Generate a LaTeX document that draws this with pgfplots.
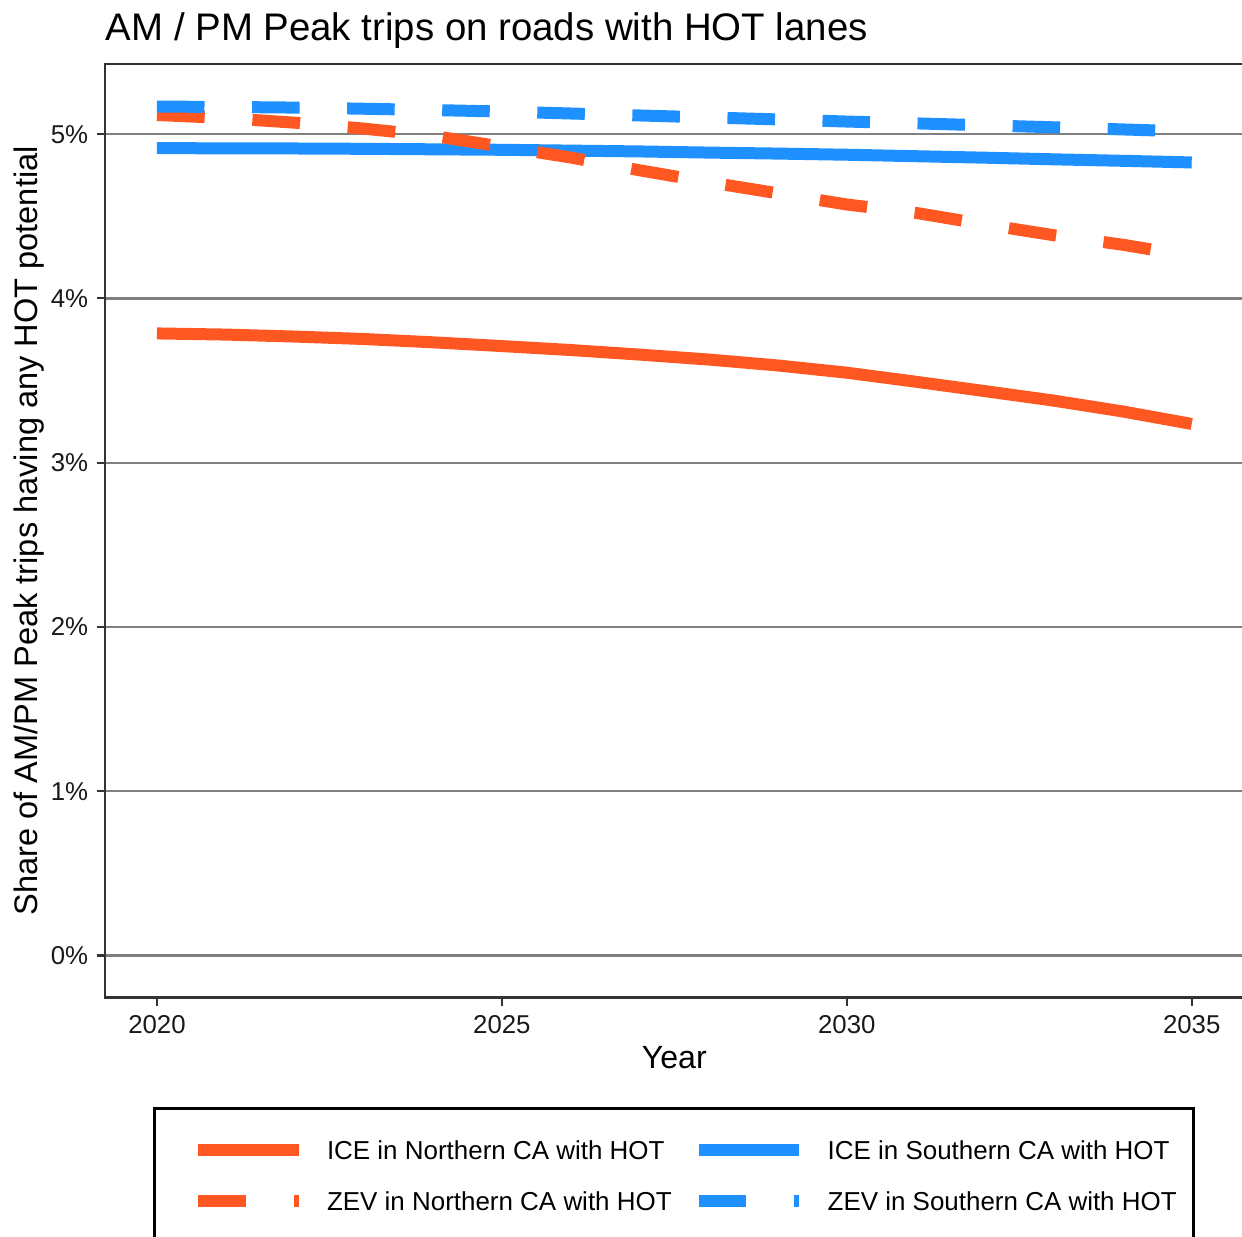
\documentclass[border=0pt]{standalone}
\usepackage{pgfplots}
\pgfplotsset{compat=1.18}
\usepackage{fontspec}
\setmainfont{Liberation Sans}
\definecolor{cor}{HTML}{FF5722}
\definecolor{cbl}{HTML}{1E90FF}
\definecolor{frame}{HTML}{333333}
\definecolor{gridc}{HTML}{808080}
\begin{document}
\begin{tikzpicture}
\begin{axis}[
  at={(0,0)}, anchor=south west,
  scale only axis, width=379.4pt, height=311.2pt,
  xmin=2019.25, xmax=2035.75, ymin=-0.256, ymax=5.428,
  axis line style={frame, line width=0.7pt},
  xtick={2020,2025,2030,2035}, xticklabels={2020,2025,2030,2035},
  ytick={0,1,2,3,4,5}, yticklabels={0\%,1\%,2\%,3\%,4\%,5\%},
  xtick pos=bottom, ytick pos=left,
  tick align=outside, major tick length=2.7pt,
  tick style={frame, line width=0.7pt},
  ymajorgrids, grid style={gridc, line width=0.8pt},
  ticklabel style={font=\fontsize{8.6}{10}\selectfont, text=black!90},
  xticklabel style={anchor=north, inner sep=0pt, yshift=-3.1pt},
  yticklabel style={anchor=east, inner sep=0pt, xshift=-2.8pt},
  title={AM / PM Peak trips on roads with HOT lanes},
  title style={at={(axis description cs:0,1)}, anchor=base west, inner sep=0pt, yshift=1.7pt, font=\fontsize{12.8}{15}\selectfont},
  xlabel={Year},
  xlabel style={at={(axis description cs:0.5,-0.0765)}, anchor=base, inner sep=0pt, font=\fontsize{10.7}{13}\selectfont},
  ylabel={Share of AM/PM Peak trips having any HOT potential},
  ylabel style={at={(axis description cs:-0.0598,0.5)}, anchor=base, inner sep=0pt, font=\fontsize{10.85}{13}\selectfont},
  legend columns=2,
  legend image code/.code={\draw[#1] (9pt,0pt) -- (42.5pt,0pt); \path[draw=none,fill=none] (0pt,-3.1pt) rectangle (52pt,3.1pt);},
  legend style={at={(axis description cs:0.042,-0.117)}, anchor=north west,
    draw=black, line width=1pt, inner xsep=5.5pt, inner ysep=10.9pt,
    font=\fontsize{8.65}{10}\selectfont, row sep=10.8pt, column sep=0pt,
    nodes={inner sep=0pt, text height=6.2pt, text depth=0pt, anchor=west},
    /tikz/every even column/.append style={column sep=0pt}},
  legend cell align=left,
]
\addplot[cor, line width=4pt] coordinates {
(2020,3.787)(2021,3.780)(2022,3.768)(2023,3.753)(2024,3.733)(2025,3.710)
(2026,3.686)(2027,3.658)(2028,3.628)(2029,3.592)(2030,3.548)(2031,3.493)
(2032,3.436)(2033,3.378)(2034,3.312)(2035,3.236)};
\addlegendentry{ICE in Northern CA with HOT}
\addplot[cbl, line width=4pt] coordinates {
(2020,4.915)(2021,4.914)(2022,4.913)(2023,4.911)(2024,4.908)(2025,4.905)
(2026,4.900)(2027,4.895)(2028,4.888)(2029,4.882)(2030,4.875)(2031,4.866)
(2032,4.857)(2033,4.847)(2034,4.838)(2035,4.828)};
\addlegendentry{ICE in Southern CA with HOT}
\addplot[cor, line width=4pt, dash pattern=on 15.93pt off 15.93pt] coordinates {
(2020,5.117)(2021,5.098)(2022,5.070)(2023,5.034)(2024,4.990)(2025,4.924)
(2026,4.858)(2027,4.780)(2028,4.708)(2029,4.640)(2030,4.572)(2031,4.521)
(2032,4.451)(2033,4.385)(2034,4.327)(2035,4.257)};
\addlegendentry{ZEV in Northern CA with HOT}
\addplot[cbl, line width=4pt, dash pattern=on 15.85pt off 15.85pt] coordinates {
(2020,5.168)(2021,5.166)(2022,5.162)(2023,5.155)(2024,5.147)(2025,5.138)
(2026,5.126)(2027,5.114)(2028,5.102)(2029,5.090)(2030,5.077)(2031,5.066)
(2032,5.054)(2033,5.042)(2034,5.029)(2035,5.016)};
\addlegendentry{ZEV in Southern CA with HOT}
\end{axis}
\pgfresetboundingbox
\path[use as bounding box] (-35.07pt,-79.77pt) rectangle (378.93pt,332.5pt);
\end{tikzpicture}
\end{document}
